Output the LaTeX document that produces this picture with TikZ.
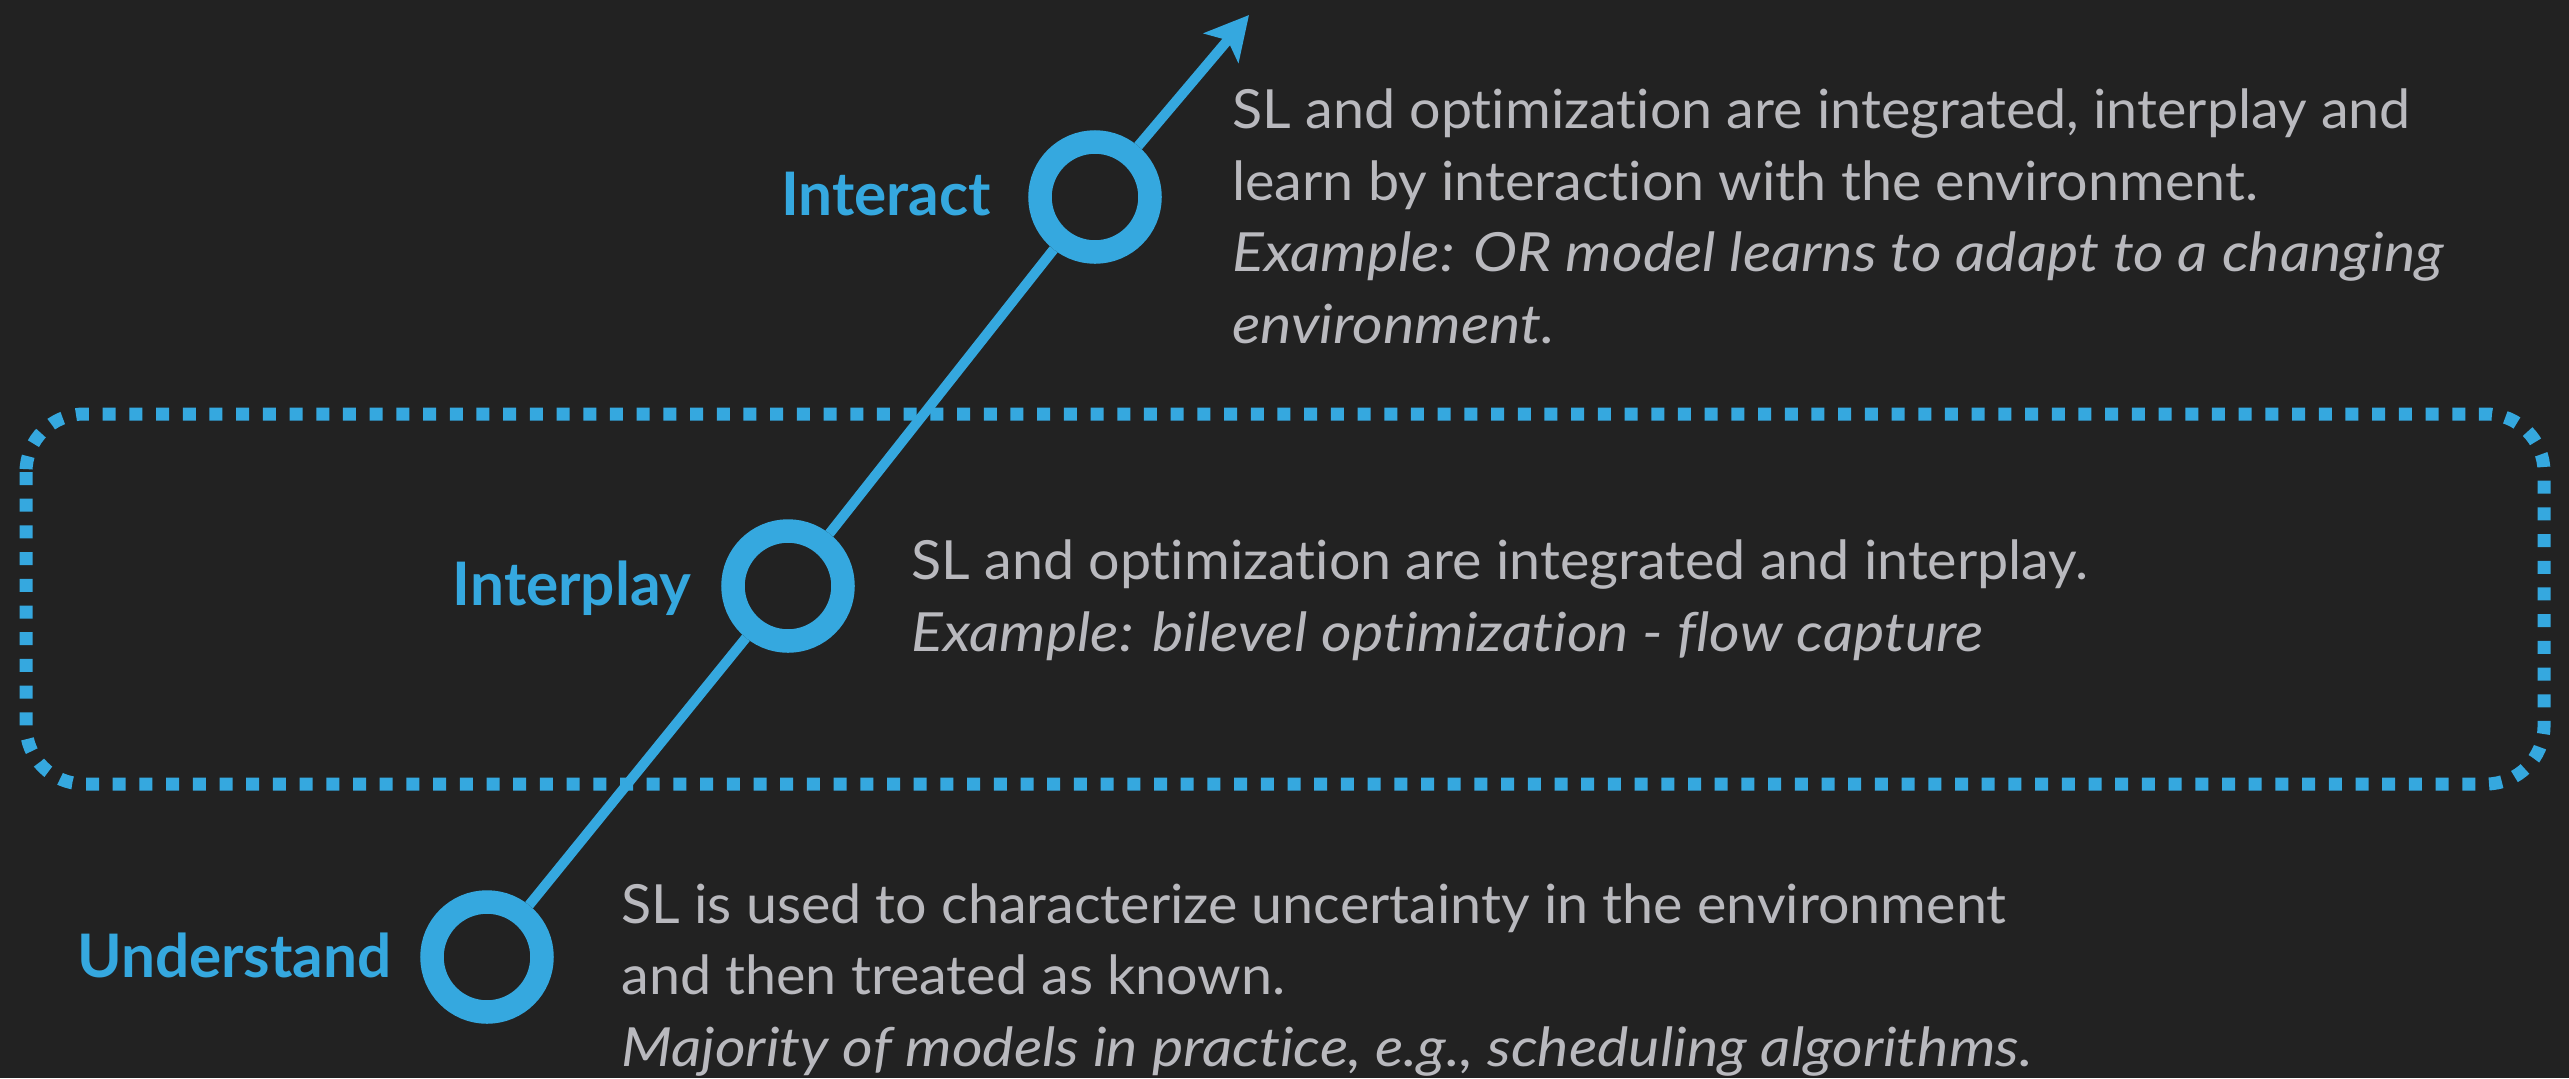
\documentclass[tikz,border=0pt]{standalone}
\usepackage{fontspec}
\setmainfont{Lato}[Ligatures=NoCommon, FakeStretch=1.03, ItalicFeatures={FakeStretch=1.095}, BoldFeatures={FakeStretch=1.005}]
\usetikzlibrary{arrows.meta}
\newcommand\sepTI{t\kern0pt i}
\definecolor{bg}{HTML}{222222}
\definecolor{accent}{HTML}{35A8DF}
\definecolor{bodytext}{HTML}{B9B9BE}
\tikzset{
  ring/.style={circle, draw=accent, fill=bg, line width=11.75pt, minimum size=55pt, inner sep=0pt},
  stage/.style={text=accent, font={\fontsize{30pt}{36pt}\selectfont\bfseries}, inner sep=0pt, anchor=base east},
  desc/.style={text=bodytext, font={\fontsize{27pt}{35.75pt}\selectfont}, align=left, inner sep=0pt, anchor=base west},
  axis/.style={draw=accent, line width=5pt},
  zone/.style={draw=accent, line width=6.5pt, dash pattern=on 6.5pt off 6.85pt, rounded corners=29pt}
}
\begin{document}
\begin{tikzpicture}[x=0.5pt, y=-0.5pt]
\fill[bg] (0,0) rectangle (2569,1078);
\useasboundingbox (0,0) rectangle (2569,1078);
\draw[zone] (26,414) rectangle (2544,784);
\coordinate (tip) at (1249,15);
\node[ring] (U) at (487,957) {};
\node[ring] (P) at (788,586) {};
\node[ring] (A) at (1095,197) {};
\draw[axis] (U) -- (P);
\draw[axis] (P) -- (A);
\draw[axis, -{Stealth[length=21.5pt, width=22.5pt, inset=5pt]}] (A) -- (tip);
\node[stage] (lu) at (392,977) {Understand};
\node[stage] (lp) at (692,605) {Interplay};
\node[stage] (la) at (991,215) {Interact};
\node[desc] (da) at (1232,343) {SL and op\sepTI miza\sepTI on are integrated, interplay and\\learn by interac\sepTI on with the environment.\\\textit{Example: OR model learns to adapt to a changing}\\\textit{environment.}};
\node[desc] (dp) at (911,651) {SL and op\sepTI miza\sepTI on are integrated and interplay.\\\textit{Example: bilevel op\sepTI miza\sepTI on - flow capture}};
\node[desc] (du) at (621,1066) {SL is used to characterize uncertainty in the environment\\and then treated as known.\\\textit{Majority of models in practice, e.g., scheduling algorithms.}};
\end{tikzpicture}
\end{document}
